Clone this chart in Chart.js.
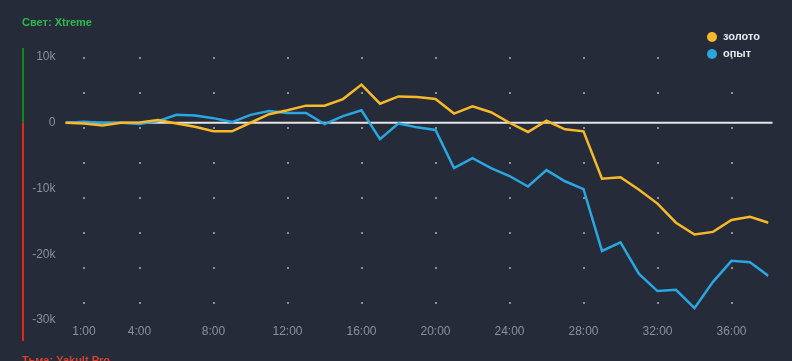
<!DOCTYPE html>
<html>
<head>
<meta charset="utf-8">
<script src="https://cdn.jsdelivr.net/npm/chart.js@4.4.1/dist/chart.umd.min.js"></script>
<style>
  html, body { margin: 0; padding: 0; background: #252b38; }
  #wrap { position: relative; width: 792px; height: 361px; }
</style>
</head>
<body>
<div id="wrap"><canvas id="grafico"></canvas></div>
<script>
// dados (minutos da partida e diferenca de golds/xp)
const minutos = [0, 1, 2, 3, 4, 5, 6, 7, 8, 9, 10, 11, 12, 13, 14, 15, 16, 17, 18, 19, 20,
  21, 22, 23, 24, 25, 26, 27, 28, 29, 30, 31, 32, 33, 34, 35, 36, 37, 38];
const ouro = [0, -100, -400, 0, 50, 400, -100, -600, -1300, -1300, 0, 1300, 1900, 2600, 2600, 3600, 5800, 2900, 4000, 3900, 3600,
  1400, 2500, 1600, 0, -1400, 300, -1000, -1300, -8500, -8300, -10200, -12300, -15200, -17000, -16600, -14800, -14300, -15200];
const exp = [0, 150, 0, 0, -200, 250, 1200, 1100, 700, 100, 1200, 1800, 1500, 1500, -200, 1000, 1900, -2500, -100, -700, -1100,
  -6900, -5400, -6900, -8100, -9700, -7200, -8900, -10100, -19500, -18200, -23000, -25600, -25400, -28200, -24200, -21000, -21200, -23300];
const ticksX = [1, 4, 8, 12, 16, 20, 24, 28, 32, 36];
const nomes = ["золото", "опыт"];
const cores = ["#f7b928", "#2aa6e0"];

const fonte = "'Liberation Sans', Arial, sans-serif";

// plugin que desenha a linha do zero, a barra lateral, titulos e legenda
const extras = {
  id: "extras",
  beforeDatasetsDraw(chart) {
    const { ctx, chartArea } = chart;
    const y0 = chart.scales.y.getPixelForValue(0);
    ctx.save();
    ctx.strokeStyle = "#e6e6e6";
    ctx.lineWidth = 2;
    ctx.beginPath();
    ctx.moveTo(chartArea.left, y0);
    ctx.lineTo(chartArea.right + 4, y0);
    ctx.stroke();
    ctx.restore();
  },
  afterDraw(chart) {
    const { ctx } = chart;
    const y0 = chart.scales.y.getPixelForValue(0);
    ctx.save();
    // barra verde / vermelha
    ctx.lineWidth = 2;
    ctx.strokeStyle = "#12881a";
    ctx.beginPath(); ctx.moveTo(23, 48); ctx.lineTo(23, y0); ctx.stroke();
    ctx.strokeStyle = "#e2281c";
    ctx.beginPath(); ctx.moveTo(23, y0); ctx.lineTo(23, 341); ctx.stroke();
    // titulos
    ctx.font = "bold 11px " + fonte;
    ctx.textBaseline = "alphabetic";
    ctx.textAlign = "left";
    ctx.fillStyle = "#2fba4b";
    ctx.fillText("Свет: Xtreme", 22, 26);
    ctx.fillStyle = "#d8402c";
    ctx.fillText("Тьма: Yakult Pro", 22, 364);
    // legenda
    ctx.font = "bold 11px " + fonte;
    ctx.textBaseline = "middle";
    nomes.forEach((n, i) => {
      const y = 37 + i * 17;
      ctx.fillStyle = cores[i];
      ctx.beginPath(); ctx.arc(712, y, 5, 0, Math.PI * 2); ctx.fill();
      ctx.fillStyle = "#e8eaee";
      ctx.fillText(n, 723, y);
    });
    ctx.restore();
  }
};

new Chart(document.getElementById("grafico"), {
  type: "line",
  data: {
    datasets: [ouro, exp].map((serie, i) => ({
      label: nomes[i],
      data: serie.map((v, k) => ({ x: minutos[k], y: v })),
      borderColor: cores[i],
      backgroundColor: cores[i],
      borderWidth: 2.5,
      pointRadius: 0,
      tension: 0
    }))
  },
  options: {
    responsive: true,
    maintainAspectRatio: false,
    animation: false,
    layout: { padding: { top: 57, right: 23.5, bottom: 21, left: 0 } },
    plugins: { legend: { display: false }, tooltip: { enabled: false } },
    scales: {
      x: {
        type: "linear",
        min: 0,
        max: 38,
        afterBuildTicks: s => { s.ticks = ticksX.map(v => ({ value: v })); },
        afterFit: s => { s.height = 20; },
        grid: { color: "#8a909a", lineWidth: 2, drawTicks: false, tickBorderDash: [0, 1] },
        border: { display: false, dash: [2, 33] },
        ticks: { color: "#8b919b", font: { family: fonte, size: 12 }, padding: 4, maxRotation: 0,
          callback: v => v + ":00" }
      },
      y: {
        min: -30000,
        max: 10000,
        afterFit: s => { s.width = 65.5; },
        grid: { display: false, drawTicks: false },
        border: { display: false },
        ticks: { stepSize: 10000, color: "#8b919b", font: { family: fonte, size: 12 }, padding: 10,
          callback: v => v === 0 ? "0" : (v / 1000) + "k" }
      }
    }
  },
  plugins: [extras]
});
</script>
</body>
</html>
